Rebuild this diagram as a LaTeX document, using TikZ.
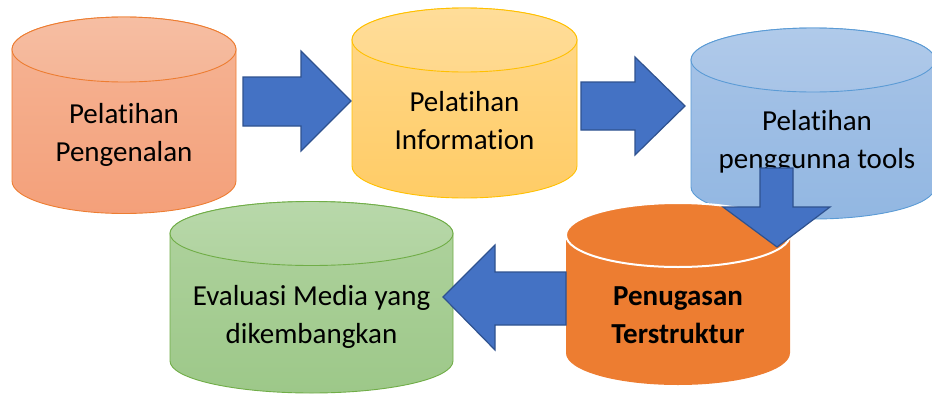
\documentclass[tikz,border=0pt]{standalone}
\usepackage{fontspec}
\setmainfont[RawFeature={-liga;-clig;-dlig;-calt}]{Carlito}
% keep "t" and "i" as separate glyphs
\newcommand\ti{t\kern0pt i}
\begin{document}
\begin{tikzpicture}[x=1pt,y=-1pt,
  label/.style={align=center,font=\fontsize{29}{38}\selectfont,text=black,inner sep=0pt},
  blockarrow/.style={fill=arrowfill,draw=arrowline,line width=1.2pt,line join=miter}]
\definecolor{arrowfill}{HTML}{4472C4}
\definecolor{arrowline}{HTML}{2F528F}
% salmon
\definecolor{saTop}{HTML}{F6BEA3}\definecolor{saMid}{HTML}{F5B596}\definecolor{saBot}{HTML}{F4A07A}\definecolor{saLine}{HTML}{ED7D31}
% yellow
\definecolor{yeTop}{HTML}{FFDD99}\definecolor{yeMid}{HTML}{FFD88C}\definecolor{yeBot}{HTML}{FFCC66}\definecolor{yeLine}{HTML}{FFC000}
% blue
\definecolor{blTop}{HTML}{B0CAEA}\definecolor{blMid}{HTML}{A8C4E7}\definecolor{blBot}{HTML}{92B7E2}\definecolor{blLine}{HTML}{5B9BD5}
% green
\definecolor{grTop}{HTML}{B8D8AA}\definecolor{grMid}{HTML}{B0D39F}\definecolor{grBot}{HTML}{9DC889}\definecolor{grLine}{HTML}{70AD47}
% solid orange
\definecolor{orFill}{HTML}{ED7D31}

\useasboundingbox (0,0) rectangle (932,394);

% #1 cx, #2 rx, #3 top centre y, #4 bottom centre y, #5 ry, #6 top, #7 mid, #8 bottom, #9 line
\newcommand\drawcyl[9]{%
  \shade[top color=#7,bottom color=#8,draw=#9,line width=0.9pt]
    (#1-#2,#3) -- (#1-#2,#4)
    arc[start angle=180,end angle=0,x radius=#2,y radius=#5]
    -- (#1+#2,#3)
    arc[start angle=0,end angle=-180,x radius=#2,y radius=#5] -- cycle;
  \shade[top color=#6,bottom color=#7,draw=#9,line width=0.9pt]
    (#1,#3) ellipse[x radius=#2,y radius=#5];
}

\drawcyl{124}{112}{49.5}{181}{32.5}{saTop}{saMid}{saBot}{saLine}
\drawcyl{464.5}{112.5}{40}{166}{32}{yeTop}{yeMid}{yeBot}{yeLine}
\drawcyl{813}{122}{60}{187}{32}{blTop}{blMid}{blBot}{blLine}
\drawcyl{311.5}{141.5}{233.5}{361}{32}{grTop}{grMid}{grBot}{grLine}

% solid orange cylinder with white rim on its lid
\fill[orFill] (566,235) -- (566,353)
  arc[start angle=180,end angle=0,x radius=112,y radius=32]
  -- (790,235)
  arc[start angle=0,end angle=-180,x radius=112,y radius=32] -- cycle;
\draw[white,line width=2pt,fill=orFill] (678,235) ellipse[x radius=112,y radius=32];

\node[label] (c1) at (124,135) {Pela\ti han\\Pengenalan};
\node[label] (c2) at (464.5,121) {Pela\ti han\\Informa\ti on};
\node[label] (c3) at (817,142) {Pela\ti han\\penggunna tools};
\node[label] (c5) at (311.5,317) {Evaluasi Media yang\\dikembangkan};
\node[label,font=\fontsize{29}{38}\selectfont\bfseries] (c4) at (678,315) {Penugasan\\Terstruktur};

% block arrows
\draw[blockarrow] (243,77) -- (301,77) -- (301,51) -- (351,101) -- (301,151) -- (301,126) -- (243,126) -- cycle;
\draw[blockarrow] (581,82) -- (635,82) -- (635,57) -- (685,106) -- (635,155) -- (635,130) -- (581,130) -- cycle;
\draw[blockarrow] (760,168) -- (793,168) -- (793,207) -- (830,207) -- (777,247) -- (723,207) -- (760,207) -- cycle;
\draw[blockarrow] (566,272) -- (495,272) -- (495,245) -- (443,297) -- (495,350) -- (495,325) -- (566,325) -- cycle;
\end{tikzpicture}
\end{document}
